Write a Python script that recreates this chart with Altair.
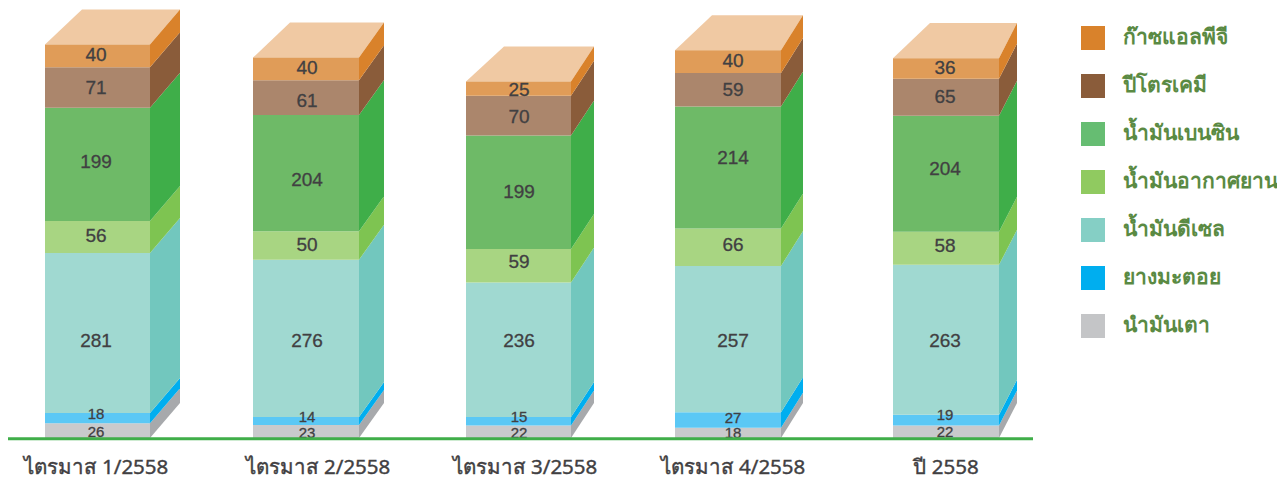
import altair as alt
import pandas as pd

periods = ["ไตรมาส 1/2558", "ไตรมาส 2/2558", "ไตรมาส 3/2558", "ไตรมาส 4/2558", "ปี 2558"]
series = ["ก๊าซแอลพีจี", "ปีโตรเคมี", "น้ำมันเบนซิน", "น้ำมันอากาศยาน", "น้ำมันดีเซล", "ยางมะตอย", "นำมันเตา"]
values = {
    "ก๊าซแอลพีจี": [40, 40, 25, 40, 36],
    "ปีโตรเคมี": [71, 61, 70, 59, 65],
    "น้ำมันเบนซิน": [199, 204, 199, 214, 204],
    "น้ำมันอากาศยาน": [56, 50, 59, 66, 58],
    "น้ำมันดีเซล": [281, 276, 236, 257, 263],
    "ยางมะตอย": [18, 14, 15, 27, 19],
    "นำมันเตา": [26, 23, 22, 18, 22],
}
# height (in value units) at which each figure is printed in the reference
label_level = {
    "ก๊าซแอลพีจี": [672, 650, 611, 662, 650],
    "ปีโตรเคมี": [614, 592, 564, 611, 598],
    "น้ำมันเบนซิน": [485, 453, 432, 492, 472],
    "น้ำมันอากาศยาน": [355, 339, 309, 339, 337],
    "น้ำมันดีเซล": [170, 170, 170, 170, 170],
    "ยางมะตอย": [42, 37, 37, 35, 40],
    "นำมันเตา": [10, 9, 9, 9, 10],
}
small_series = ["ยางมะตอย", "นำมันเตา"]

legend_colors = ["#D9822B", "#8A5C3A", "#66BD72", "#90CA60", "#85CFC5", "#00AEEF", "#C4C5C7"]
side_colors = ["#D9822B", "#8A5C3A", "#3FAE49", "#7EC451", "#72C7BE", "#00AEEF", "#A7A9AC"]
front_colors = ["#E09C58", "#AB866C", "#6EBA67", "#A8D582", "#A0D9D1", "#5BC8F5", "#C9CACC"]

# horizontal layout of the drawing, in chart pixels
bar_left = [37, 245, 458, 667, 885]
bar_width = [105, 106, 105, 106, 106]
side_depth = [30, 25, 23, 22, 18]
back_inset = [37, 37, 38, 37, 37]
value_x = [88, 299, 511, 725, 937]
label_x = [88, 310, 517, 725, 938]
lift = 61.5  # depth of the box, in value units

W, H = 1269, 472
BASE_PX, PX_PER_UNIT = 430, 0.5695
x_scale = alt.Scale(domain=[0, W], nice=False, zero=False)
y_scale = alt.Scale(domain=[-(H - BASE_PX) / PX_PER_UNIT, BASE_PX / PX_PER_UNIT], nice=False, zero=False)

front, side, top, cats = [], [], [], []
for i, period in enumerate(periods):
    base = 0
    left, right = bar_left[i], bar_left[i] + bar_width[i]
    for name in reversed(series):
        v = values[name][i]
        front.append(dict(period=period, series=name, value=v, x=left, x2=right, y=base, y2=base + v,
                          mid=label_level[name][i], center=value_x[i], small=name in small_series))
        side.append(dict(key=f"{i}-{name}", series=name, x=right, y=base, y2=base + v))
        side.append(dict(key=f"{i}-{name}", series=name, x=right + side_depth[i], y=base + lift, y2=base + v + lift))
        base += v
    back = base + lift
    for x, y, y2 in [(left, base, base), (left + back_inset[i], base, back), (right, base, back),
                     (right + side_depth[i], back, back)]:
        top.append(dict(key=period, x=x, y=y, y2=y2))
    cats.append(dict(period=period, x=label_x[i]))

df_front, df_side, df_top, df_cats = map(pd.DataFrame, (front, side, top, cats))

X = lambda f: alt.X(f, type="quantitative", scale=x_scale, axis=None)
Y = lambda f: alt.Y(f, type="quantitative", scale=y_scale, axis=None, stack=None)

top_layer = alt.Chart(df_top).mark_area(color="#F0C9A3", interpolate="linear").encode(
    x=X("x"), y=Y("y"), y2="y2", detail="key:N")

side_layer = alt.Chart(df_side).mark_area(interpolate="linear").encode(
    x=X("x"), y=Y("y"), y2="y2", detail="key:N",
    color=alt.Color("series:N", scale=alt.Scale(domain=series, range=side_colors), legend=None))

front_layer = alt.Chart(df_front).mark_bar().encode(
    x=X("x"), x2="x2", y=Y("y"), y2="y2",
    color=alt.Color("series:N", scale=alt.Scale(domain=series, range=front_colors), legend=None))

legend_layer = alt.Chart(df_front).mark_bar().encode(
    x=X("x"), x2="x", y=Y("y"), y2="y",
    color=alt.Color("series:N", scale=alt.Scale(domain=series, range=legend_colors),
                    legend=alt.Legend(title=None, orient="none", legendX=1073, legendY=18,
                                      symbolType="square", symbolSize=576, symbolStrokeWidth=0,
                                      labelFontSize=21, labelColor="#5A8A43", labelOffset=18,
                                      labelFont="Noto Sans", labelFontWeight=600, rowPadding=24,
                                      labelLimit=220)))

labels = alt.Chart(df_front).mark_text(font="Liberation Sans", color="#414042", baseline="middle",
                                       stroke="#414042", strokeWidth=0.3).encode(
    x=X("center"), y=Y("mid"), text="value:Q",
    size=alt.condition("datum.small", alt.value(15), alt.value(19)))

baseline = alt.Chart(pd.DataFrame({"x": [0], "x2": [1025], "y": [-1.5]})).mark_rule(
    color="#3FAE49", strokeWidth=3).encode(x=X("x"), x2="x2", y=Y("y"))

cat_labels = alt.Chart(df_cats).mark_text(font="Noto Sans", fontSize=20.5, color="#414042", baseline="middle",
                                          stroke="#414042", strokeWidth=0.4).encode(
    x=X("x"), y=alt.value(460), text="period:N")

chart = alt.layer(top_layer, side_layer, front_layer, legend_layer, labels, baseline, cat_labels).resolve_scale(
    color="independent"
).properties(width=W, height=H, padding=0, autosize=alt.AutoSizeParams(type="none")).configure_view(stroke=None)

chart.save("out.html", embed_options={"renderer": "svg", "actions": False})
